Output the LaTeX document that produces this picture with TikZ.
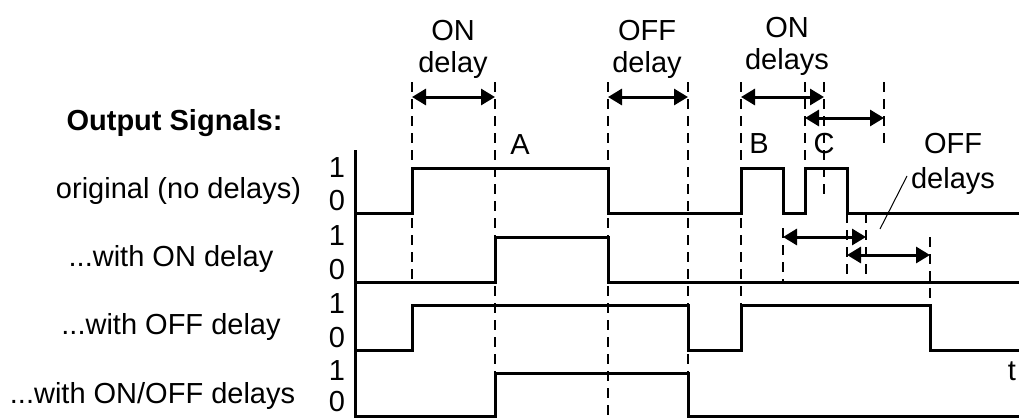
\documentclass[tikz,border=0pt]{standalone}
\usepackage{fontspec}
\setmainfont{Liberation Sans}
\usetikzlibrary{arrows.meta}
\begin{document}
\begin{tikzpicture}[x=1pt,y=-1pt,
  every node/.style={inner sep=0pt,font=\fontsize{29}{33}\selectfont},
  lbl/.style={anchor=base},
  sig/.style={line width=3pt,line join=miter,line cap=rect},
  axisline/.style={line width=3pt},
  guide/.style={line width=2.2pt,dash pattern=on 10pt off 7pt},
  dim/.style={line width=3pt,{Triangle[length=14pt,width=16pt]}-{Triangle[length=14pt,width=16pt]}},
  leader/.style={line width=1pt}]
\useasboundingbox (0,0) rectangle (1019,418);
% left labels
\node[lbl,font=\fontsize{29}{33}\selectfont\bfseries] (hdr) at (174.5,130) {Output Signals:};
\node[lbl] (r1) at (178.5,198) {original (no delays)};
\node[lbl] (r2) at (171,266) {...with ON delay};
\node[lbl] (r3) at (171,334) {...with OFF delay};
\node[lbl] (r4) at (152.5,403) {...with ON/OFF delays};
% level labels
\node[lbl] (h1) at (337,177) {1}; \node[lbl] (l1) at (337,210) {0};
\node[lbl] (h2) at (337,245) {1}; \node[lbl] (l2) at (337,279) {0};
\node[lbl] (h3) at (337,313) {1}; \node[lbl] (l3) at (337,347) {0};
\node[lbl] (h4) at (337,380) {1}; \node[lbl] (l4) at (337,411) {0};
% top labels
\node[lbl] (ona) at (453,40) {ON};   \node[lbl] (onb) at (453,72) {delay};
\node[lbl] (offa) at (647,40) {OFF}; \node[lbl] (offb) at (647,72) {delay};
\node[lbl] (onsa) at (787,37) {ON};  \node[lbl] (onsb) at (787,69) {delays};
\node[lbl] (A) at (520,154) {A};
\node[lbl] (B) at (759,153) {B};
\node[lbl] (C) at (824,153) {C};
\node[lbl] (offsa) at (953,153) {OFF};
\node[lbl] (offsb) at (953,188) {delays};
\node[lbl] (t) at (1012,380) {t};
% guide lines
\draw[guide] (412,82) -- (412,282);
\draw[guide] (495,82) -- (495,416);
\draw[guide] (608,82) -- (608,416);
\draw[guide] (688,82) -- (688,416);
\draw[guide] (741,82) -- (741,350);
\draw[guide] (783,228) -- (783,282);
\draw[guide] (805,82) -- (805,168);
\draw[guide] (824,82) -- (824,200);
\draw[guide] (847,213) -- (847,282);
\draw[guide] (866,213) -- (866,282);
\draw[guide] (884,82) -- (884,147);
\draw[guide] (930,237) -- (930,350);
% axis
\draw[axisline] (355,150) -- (355,418);
% signals
\draw[sig] (355,213) -- (412,213) -- (412,168) -- (608,168) -- (608,213) -- (741,213) -- (741,168) -- (783,168) -- (783,213) -- (805,213) -- (805,168) -- (847,168) -- (847,213) -- (1019,213);
\draw[sig] (355,282) -- (495,282) -- (495,237) -- (608,237) -- (608,282) -- (1019,282);
\draw[sig] (355,350) -- (412,350) -- (412,305) -- (688,305) -- (688,350) -- (741,350) -- (741,305) -- (930,305) -- (930,350) -- (1019,350);
\draw[sig] (355,416) -- (495,416) -- (495,373) -- (688,373) -- (688,416) -- (1019,416);
% dimension arrows
\coordinate (d1a) at (412,97);  \coordinate (d1b) at (495,97);
\coordinate (d2a) at (608,97);  \coordinate (d2b) at (688,97);
\coordinate (d3a) at (741,97);  \coordinate (d3b) at (824,97);
\coordinate (d4a) at (805,118); \coordinate (d4b) at (884,118);
\coordinate (d5a) at (783,237); \coordinate (d5b) at (866,237);
\coordinate (d6a) at (847,255); \coordinate (d6b) at (930,255);
\draw[dim] (d1a) -- (d1b);
\draw[dim] (d2a) -- (d2b);
\draw[dim] (d3a) -- (d3b);
\draw[dim] (d4a) -- (d4b);
\draw[dim] (d5a) -- (d5b);
\draw[dim] (d6a) -- (d6b);
% leader
\coordinate (ldA) at (907,176); \coordinate (ldB) at (880,229);
\draw[leader] (ldA) -- (ldB);
\end{tikzpicture}
\end{document}
